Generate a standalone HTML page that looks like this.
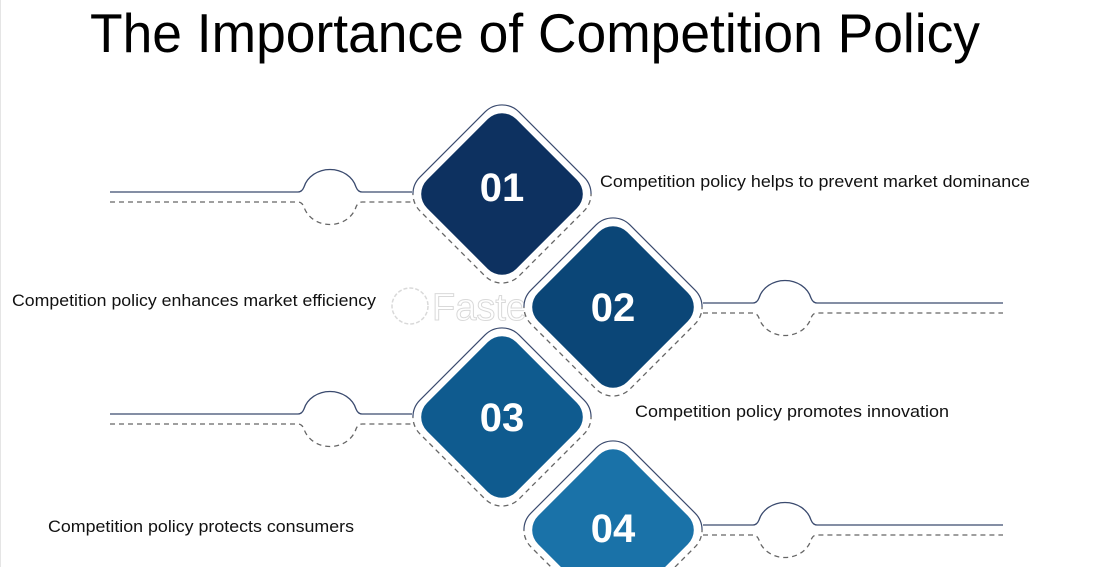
<!DOCTYPE html>
<html><head><meta charset="utf-8"><style>
html,body{margin:0;padding:0;background:#fff;width:1093px;height:567px;overflow:hidden}
svg{display:block}
</style></head><body>
<svg width="1093" height="567" viewBox="0 0 1093 567" xmlns="http://www.w3.org/2000/svg">
<defs>
<clipPath id="top"><rect x="-200" y="-200" width="400" height="200"/></clipPath>
<clipPath id="bot"><rect x="-200" y="0" width="400" height="200"/></clipPath>
<g id="outline">
  <rect x="-70" y="-70" width="140" height="140" rx="24" transform="rotate(45)" fill="#fff" stroke="none"/>
  <g clip-path="url(#top)"><rect x="-70" y="-70" width="140" height="140" rx="24" transform="rotate(45)" fill="none" stroke="#3a4a6e" stroke-width="1.2"/></g>
  <g clip-path="url(#bot)"><rect x="-70" y="-70" width="140" height="140" rx="24" transform="rotate(45)" fill="none" stroke="#666" stroke-width="1.3" stroke-dasharray="5 4"/></g>
</g>
</defs>
<rect x="0" y="0" width="1" height="567" fill="#e5e5e5"/>
<text x="90" y="52" font-family="Liberation Sans, sans-serif" font-size="55" textLength="890" lengthAdjust="spacingAndGlyphs" fill="#000">The Importance of Competition Policy</text>

<g fill="none" stroke-width="1.3">
  <path d="M110 192 H298 Q302 192 304 187 A27 24 0 0 1 356 187 Q358 192 362 192 H412" stroke="#3a4a6e"/>
  <path d="M110 202 H298 Q302 202 304 207 A27 24 0 0 0 356 207 Q358 202 362 202 H412" stroke="#666" stroke-dasharray="5 4"/>
  <path d="M110 414 H298 Q302 414 304 409 A27 24 0 0 1 356 409 Q358 414 362 414 H412" stroke="#3a4a6e"/>
  <path d="M110 424 H298 Q302 424 304 429 A27 24 0 0 0 356 429 Q358 424 362 424 H412" stroke="#666" stroke-dasharray="5 4"/>
  <path d="M703 303 H753 Q757 303 759 298 A27 24 0 0 1 811 298 Q813 303 817 303 H1003" stroke="#3a4a6e"/>
  <path d="M703 313 H753 Q757 313 759 318 A27 24 0 0 0 811 318 Q813 313 817 313 H1003" stroke="#666" stroke-dasharray="5 4"/>
  <path d="M703 525 H753 Q757 525 759 520 A27 24 0 0 1 811 520 Q813 525 817 525 H1003" stroke="#3a4a6e"/>
  <path d="M703 535 H753 Q757 535 759 540 A27 24 0 0 0 811 540 Q813 535 817 535 H1003" stroke="#666" stroke-dasharray="5 4"/>
</g>

<g opacity="0.55">
  <circle cx="410" cy="306" r="18" fill="none" stroke="#bbb" stroke-width="1.5" stroke-dasharray="4 2"/>
  <text x="432" y="320" font-family="Liberation Sans, sans-serif" font-size="38" fill="none" stroke="#bbb" stroke-width="1">Faster</text>
</g>

<g transform="translate(502,194)"><use href="#outline"/>
  <rect x="-63" y="-63" width="126" height="126" rx="20" transform="rotate(45)" fill="#0d3160"/>
  <text x="0" y="7" text-anchor="middle" font-family="Liberation Sans, sans-serif" font-weight="bold" font-size="40" fill="#fff">01</text></g>
<g transform="translate(613,307)"><use href="#outline"/>
  <rect x="-63" y="-63" width="126" height="126" rx="20" transform="rotate(45)" fill="#0b4677"/>
  <text x="0" y="14" text-anchor="middle" font-family="Liberation Sans, sans-serif" font-weight="bold" font-size="40" fill="#fff">02</text></g>
<g transform="translate(502,417)"><use href="#outline"/>
  <rect x="-63" y="-63" width="126" height="126" rx="20" transform="rotate(45)" fill="#0f5b8f"/>
  <text x="0" y="14" text-anchor="middle" font-family="Liberation Sans, sans-serif" font-weight="bold" font-size="40" fill="#fff">03</text></g>
<g transform="translate(613,530)"><use href="#outline"/>
  <rect x="-63" y="-63" width="126" height="126" rx="20" transform="rotate(45)" fill="#1a72a8"/>
  <text x="0" y="12" text-anchor="middle" font-family="Liberation Sans, sans-serif" font-weight="bold" font-size="40" fill="#fff">04</text></g>

<g font-family="Liberation Sans, sans-serif" font-size="17" fill="#111">
  <text x="600" y="187" textLength="430" lengthAdjust="spacingAndGlyphs">Competition policy helps to prevent market dominance</text>
  <text x="12" y="306" textLength="364" lengthAdjust="spacingAndGlyphs">Competition policy enhances market efficiency</text>
  <text x="635" y="417" textLength="314" lengthAdjust="spacingAndGlyphs">Competition policy promotes innovation</text>
  <text x="48" y="532" textLength="306" lengthAdjust="spacingAndGlyphs">Competition policy protects consumers</text>
</g>
</svg>
</body></html>
